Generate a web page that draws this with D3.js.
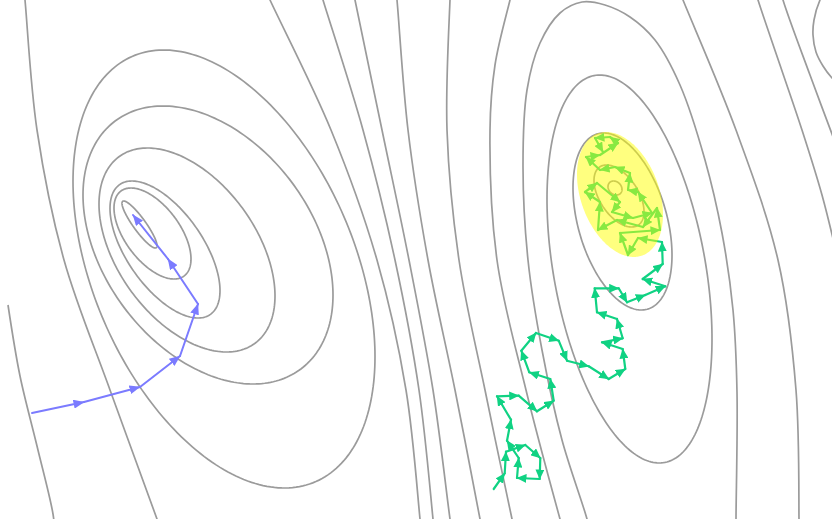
<!DOCTYPE html>
<html><head><meta charset="utf-8">
<script src="https://cdn.jsdelivr.net/npm/d3@7"></script>
<style>html,body{margin:0;padding:0;background:#fff;overflow:hidden}</style>
</head><body>
<svg id="chart" width="832" height="519"></svg>
<script>
// ---- closed contour ellipses (centre, half-extent x / y, tilt correlation), data units ----
const ellipseCx  = [1.395, 1.525, 1.65, 1.87, 2.08, 2.24, 6.15, 6.19, 6.225, 6.295];
const ellipseCy  = [2.245, 2.335, 2.495, 2.50, 2.45, 2.69, 1.88, 1.96, 2.215, 2.69];
const ellipseSx  = [0.175, 0.385, 0.55, 0.88, 1.25, 1.51, 0.07, 0.25, 0.495, 0.825];
const ellipseSy  = [0.235, 0.455, 0.685, 1.02, 1.39, 2.19, 0.07, 0.31, 0.885, 1.94];
const ellipseRho = [0.90, 0.56, 0.60, 0.45, 0.36, 0.40, 0.2, 0.5, 0.38, 0.36];

// ---- open contour lines (leave the frame) ----
const contourA  = [[0.23,-0.2],[0.25,0],[0.37,1.30],[0.64,2.60],[1.10,3.90],[1.57,5.19],[1.64,5.40]];
const contourB  = [[0.08,3.05],[0.20,3.76],[0.37,4.46],[0.53,5.14],[0.55,5.35]];
const contourC1 = [[2.61,-0.2],[2.70,0],[3.31,1.30],[3.77,2.60],[4.06,3.90],[4.20,5.19],[4.22,5.40]];
const contourC2 = [[3.17,-0.2],[3.23,0],[3.63,1.30],[3.95,2.60],[4.19,3.90],[4.33,5.19],[4.35,5.40]];
const contourC3 = [[3.51,-0.2],[3.55,0],[3.82,1.30],[4.09,2.60],[4.33,3.90],[4.50,5.19],[4.53,5.40]];
const contourC4 = [[3.95,-0.2],[3.97,0],[4.08,1.30],[4.28,2.60],[4.55,3.90],[4.80,5.19],[4.84,5.40]];
const contourC5 = [[4.51,-0.2],[4.50,0],[4.47,1.30],[4.59,2.60],[4.85,3.90],[5.12,5.19],[5.17,5.40]];
const contourC6 = [[5.15,-0.2],[5.10,0],[4.95,0.65],[4.90,1.30],[4.97,2.60],[5.26,3.90],[5.60,5.19],[5.66,5.40]];
const contourR6 = [[5.92,5.40],[5.87,5.19],[5.62,4.40],[5.42,3.50],[5.28,2.60],[5.23,1.67],[5.27,0.90],[5.40,0.43],[5.60,0.13],[5.82,0.02],[6.05,0.05],[6.30,0.17],[6.55,0.40],[6.80,0.85],[7.05,1.60],[7.22,2.33],[7.33,3.10],[7.37,3.92],[7.36,5.19],[7.36,5.40]];
const contourH  = [[6.75,-0.2],[6.83,0],[7.36,1.30],[7.78,2.60],[7.96,3.90],[7.99,5.19],[7.99,5.40]];
const contourI  = [[7.52,-0.2],[7.58,0],[7.80,0.65],[8.02,1.30],[8.22,1.95],[8.38,2.60]];
const contourJ  = [[7.78,-0.2],[7.83,0],[8.10,0.75],[8.38,1.50]];
const contourTR = [[8.26,-0.1],[8.20,0],[8.14,0.20],[8.13,0.35],[8.16,0.52],[8.23,0.66],[8.32,0.78],[8.40,0.85]];
const openContours = [contourA, contourB, contourC1, contourC2, contourC3, contourC4, contourC5, contourC6, contourR6, contourH, contourI, contourJ, contourTR];

// ---- optimisation paths ----
const gdPath = [[0.32,4.13],[0.84,4.02],[1.40,3.87],[1.80,3.56],[1.98,3.04],[1.68,2.59],[1.33,2.15]];
const sgldPath = [[4.937,4.89],[5.047,4.733],[5.06,4.517],[5.253,4.45],[5.403,4.58],[5.397,4.79],[5.17,4.78],[5.187,4.58],[5.07,4.407],[5.11,4.197],[4.97,3.963],[5.187,3.957],[5.37,4.113],[5.537,4.007],[5.503,3.79],[5.293,3.723],[5.213,3.507],[5.36,3.33],[5.587,3.407],[5.67,3.607],[5.887,3.663],[6.087,3.79],[6.253,3.69],[6.227,3.49],[6.02,3.423],[6.227,3.383],[6.17,3.19],[5.97,3.123],[5.947,2.883],[6.187,2.883],[6.27,3.023],[6.453,2.95],[6.653,2.863],[6.427,2.79],[6.627,2.64],
  [6.62,2.42],[6.38,2.38],[6.28,2.55],[6.20,2.33],[6.60,2.30],[6.57,2.08],[6.43,2.27],[6.17,2.20],[5.98,2.30],[6.00,2.02],[5.85,1.92],[5.97,1.83],[6.20,2.02],[6.12,2.12],[6.33,2.18],[6.52,2.13],[6.38,1.92],[6.28,1.90],[6.30,1.73],[6.15,1.67],[6.00,1.70],[5.86,1.57],[6.00,1.55],[6.18,1.43],[6.10,1.37],[5.95,1.38],[6.03,1.52]];

// ---- highlighted posterior region ----
const highlightCx = [6.20], highlightCy = [1.945], highlightSx = [0.43], highlightSy = [0.625], highlightRho = [0.32];

const W = 832, H = 519;
const svg = d3.select("#chart");
svg.append("rect").attr("width", W).attr("height", H).attr("fill", "#fff");
const x = d3.scaleLinear().domain([0, 8.32]).range([0, W]);
const y = d3.scaleLinear().domain([0, 5.19]).range([0, H]);

const defs = svg.append("defs");
function addMarker(id, color, len, wid) {
  defs.append("marker").attr("id", id)
    .attr("viewBox", `0 0 ${len} ${wid}`).attr("refX", len - 0.5).attr("refY", wid / 2)
    .attr("markerWidth", len).attr("markerHeight", wid)
    .attr("markerUnits", "userSpaceOnUse").attr("orient", "auto")
    .append("path").attr("d", `M0,0L${len},${wid/2}L0,${wid}Z`).attr("fill", color);
}
const blue = "#7b7bff", green = "#10d283";
addMarker("arrBlue", blue, 11, 9);
addMarker("arrGreen", green, 10, 9);

function ellipsePts(cx, cy, sx, sy, rho) {
  const c = Math.sqrt(1 - rho * rho);
  return d3.range(0, 240).map(k => {
    const t = k / 240 * 2 * Math.PI;
    return [cx + sx * Math.cos(t), cy + sy * (rho * Math.cos(t) + c * Math.sin(t))];
  });
}
const closedLine = d3.line().x(d => x(d[0])).y(d => y(d[1])).curve(d3.curveLinearClosed);
const openLine = d3.line().x(d => x(d[0])).y(d => y(d[1])).curve(d3.curveCatmullRom.alpha(0.5));

const gC = svg.append("g").attr("fill", "none").attr("stroke", "#9b9b9b").attr("stroke-width", 1.7);
gC.selectAll("path.closed").data(ellipseCx.map((d, i) => i)).join("path").attr("class", "closed")
  .attr("d", i => closedLine(ellipsePts(ellipseCx[i], ellipseCy[i], ellipseSx[i], ellipseSy[i], ellipseRho[i])));
gC.selectAll("path.open").data(openContours).join("path").attr("class", "open")
  .attr("d", d => openLine(d));

function drawPath(pts, color, marker, sw) {
  svg.append("g").selectAll("line").data(d3.pairs(pts)).join("line")
    .attr("x1", d => x(d[0][0])).attr("y1", d => y(d[0][1]))
    .attr("x2", d => x(d[1][0])).attr("y2", d => y(d[1][1]))
    .attr("stroke", color).attr("stroke-width", sw).attr("stroke-linecap", "round")
    .attr("marker-end", `url(#${marker})`);
}
drawPath(gdPath, blue, "arrBlue", 2);
drawPath(sgldPath, green, "arrGreen", 2.2);

svg.append("g").selectAll("path").data(highlightCx.map((d, i) => i)).join("path")
  .attr("d", i => closedLine(ellipsePts(highlightCx[i], highlightCy[i], highlightSx[i], highlightSy[i], highlightRho[i])))
  .attr("fill", "#ffff00").attr("fill-opacity", 0.5).attr("stroke", "none");
</script>
</body></html>
